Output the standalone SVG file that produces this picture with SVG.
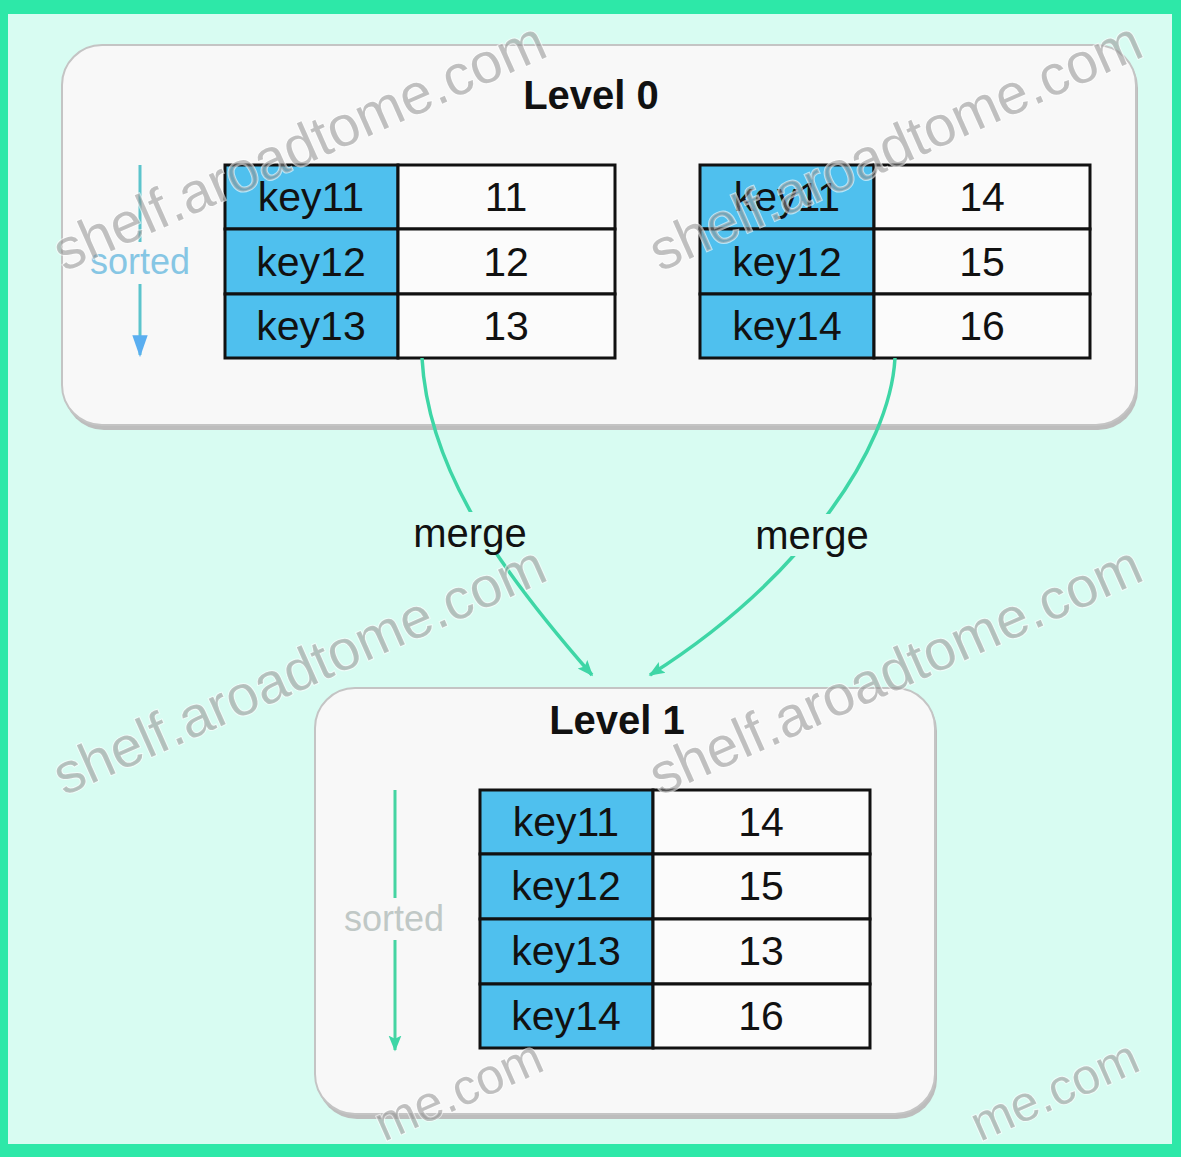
<svg xmlns="http://www.w3.org/2000/svg" width="1181" height="1157" viewBox="0 0 1181 1157">
<defs>
<style>
.t{font-family:"Liberation Sans",Arial,sans-serif;fill:#111;text-anchor:middle}
.key{fill:#4fc0ee;stroke:#111;stroke-width:3}
.val{fill:#fbfbfb;stroke:#111;stroke-width:3}
.cell{font-size:41px}
.title{font-size:40px;font-weight:bold}
.lbl{font-size:40px}
.conn{fill:none;stroke:#3ed6a6;stroke-width:3.5}
.wm{font-family:"Liberation Sans",Arial,sans-serif;font-size:57px;fill:#8f8f8f;fill-opacity:0.55;stroke:#ffffff;stroke-opacity:0.6;stroke-width:2;paint-order:stroke}
.box{fill:#f8f8f8;stroke:#c4c4c4;stroke-width:2}
</style>
<marker id="ahm" viewBox="0 0 10 10" refX="9" refY="5" markerWidth="16" markerHeight="16" orient="auto" markerUnits="userSpaceOnUse">
<path d="M0,1 L10,5 L0,9 L2,5 z" fill="#3ed6a6"/>
</marker>
<marker id="ahb" viewBox="0 0 10 10" refX="9" refY="5" markerWidth="22" markerHeight="22" orient="auto" markerUnits="userSpaceOnUse">
<path d="M0,1.5 L10,5 L0,8.5 z" fill="#5aaef0"/>
</marker>
</defs>
<rect x="0" y="0" width="1181" height="1157" fill="#2de8a8"/>
<rect x="8" y="14" width="1164" height="1130" fill="#d8fcf2"/>

<g id="level0">
<rect x="64" y="48" width="1074" height="382" rx="40" fill="#bdbdbd"/>
<rect x="62" y="45" width="1074" height="380" rx="40" class="box"/>
<text class="t title" x="591" y="109">Level 0</text>
<g id="sorted0">
<line x1="140" y1="165" x2="140" y2="355" stroke="#5cc4cc" stroke-width="3" marker-end="url(#ahb)"/>
<rect x="84" y="242" width="116" height="42" fill="#f8f8f8"/>
<text x="140" y="274" font-family="'Liberation Sans',Arial,sans-serif" font-size="36" fill="#86c6e4" text-anchor="middle">sorted</text>
</g>
</g>

<g id="table1">
<rect class="key" x="225" y="165" width="173" height="64"/>
<rect class="key" x="225" y="229" width="173" height="65"/>
<rect class="key" x="225" y="294" width="173" height="64"/>
<rect class="val" x="398" y="165" width="217" height="64"/>
<rect class="val" x="398" y="229" width="217" height="65"/>
<rect class="val" x="398" y="294" width="217" height="64"/>
<text class="t cell" x="311" y="211">key11</text>
<text class="t cell" x="311" y="276">key12</text>
<text class="t cell" x="311" y="340">key13</text>
<text class="t cell" x="506" y="211">11</text>
<text class="t cell" x="506" y="276">12</text>
<text class="t cell" x="506" y="340">13</text>
</g>

<g id="table2">
<rect class="key" x="700" y="165" width="174" height="64"/>
<rect class="key" x="700" y="229" width="174" height="65"/>
<rect class="key" x="700" y="294" width="174" height="64"/>
<rect class="val" x="874" y="165" width="216" height="64"/>
<rect class="val" x="874" y="229" width="216" height="65"/>
<rect class="val" x="874" y="294" width="216" height="64"/>
<text class="t cell" x="787" y="211">key11</text>
<text class="t cell" x="787" y="276">key12</text>
<text class="t cell" x="787" y="340">key14</text>
<text class="t cell" x="982" y="211">14</text>
<text class="t cell" x="982" y="276">15</text>
<text class="t cell" x="982" y="340">16</text>
</g>

<g id="level1">
<rect x="317" y="691" width="620" height="428" rx="40" fill="#bdbdbd"/>
<rect x="315" y="688" width="620" height="426" rx="40" class="box"/>
<text class="t title" x="617" y="734">Level 1</text>
<g id="sorted1">
<line x1="395" y1="790" x2="395" y2="1050" stroke="#45d4a2" stroke-width="3" marker-end="url(#ahm)"/>
<rect x="336" y="898" width="118" height="42" fill="#f8f8f8"/>
<text x="394" y="931" font-family="'Liberation Sans',Arial,sans-serif" font-size="36" fill="#c0c8c6" text-anchor="middle">sorted</text>
</g>
</g>

<g id="table3">
<rect class="key" x="480" y="790" width="173" height="64"/>
<rect class="key" x="480" y="854" width="173" height="65"/>
<rect class="key" x="480" y="919" width="173" height="65"/>
<rect class="key" x="480" y="984" width="173" height="64"/>
<rect class="val" x="653" y="790" width="217" height="64"/>
<rect class="val" x="653" y="854" width="217" height="65"/>
<rect class="val" x="653" y="919" width="217" height="65"/>
<rect class="val" x="653" y="984" width="217" height="64"/>
<text class="t cell" x="566" y="836">key11</text>
<text class="t cell" x="566" y="900">key12</text>
<text class="t cell" x="566" y="965">key13</text>
<text class="t cell" x="566" y="1030">key14</text>
<text class="t cell" x="761" y="836">14</text>
<text class="t cell" x="761" y="900">15</text>
<text class="t cell" x="761" y="965">13</text>
<text class="t cell" x="761" y="1030">16</text>
</g>

<g id="connectors">
<path class="conn" d="M422,358 C428,470 500,570 592,675" marker-end="url(#ahm)"/>
<path class="conn" d="M895,358 C890,450 800,580 650,675" marker-end="url(#ahm)"/>
<rect x="405" y="512" width="130" height="42" fill="#d8fcf2"/>
<text class="t lbl" x="470" y="547">merge</text>
<rect x="748" y="514" width="130" height="42" fill="#d8fcf2"/>
<text class="t lbl" x="812" y="549">merge</text>
</g>

<g id="watermarks">
<text class="wm" transform="translate(64,272) rotate(-24)">shelf.aroadtome.com</text>
<text class="wm" transform="translate(660,272) rotate(-24)">shelf.aroadtome.com</text>
<text class="wm" transform="translate(64,796) rotate(-24)">shelf.aroadtome.com</text>
<text class="wm" transform="translate(660,796) rotate(-24)">shelf.aroadtome.com</text>
<text class="wm" style="font-size:50px" transform="translate(384,1142) rotate(-24)">me.com</text>
<text class="wm" style="font-size:50px" transform="translate(980,1142) rotate(-24)">me.com</text>
</g>
</svg>
